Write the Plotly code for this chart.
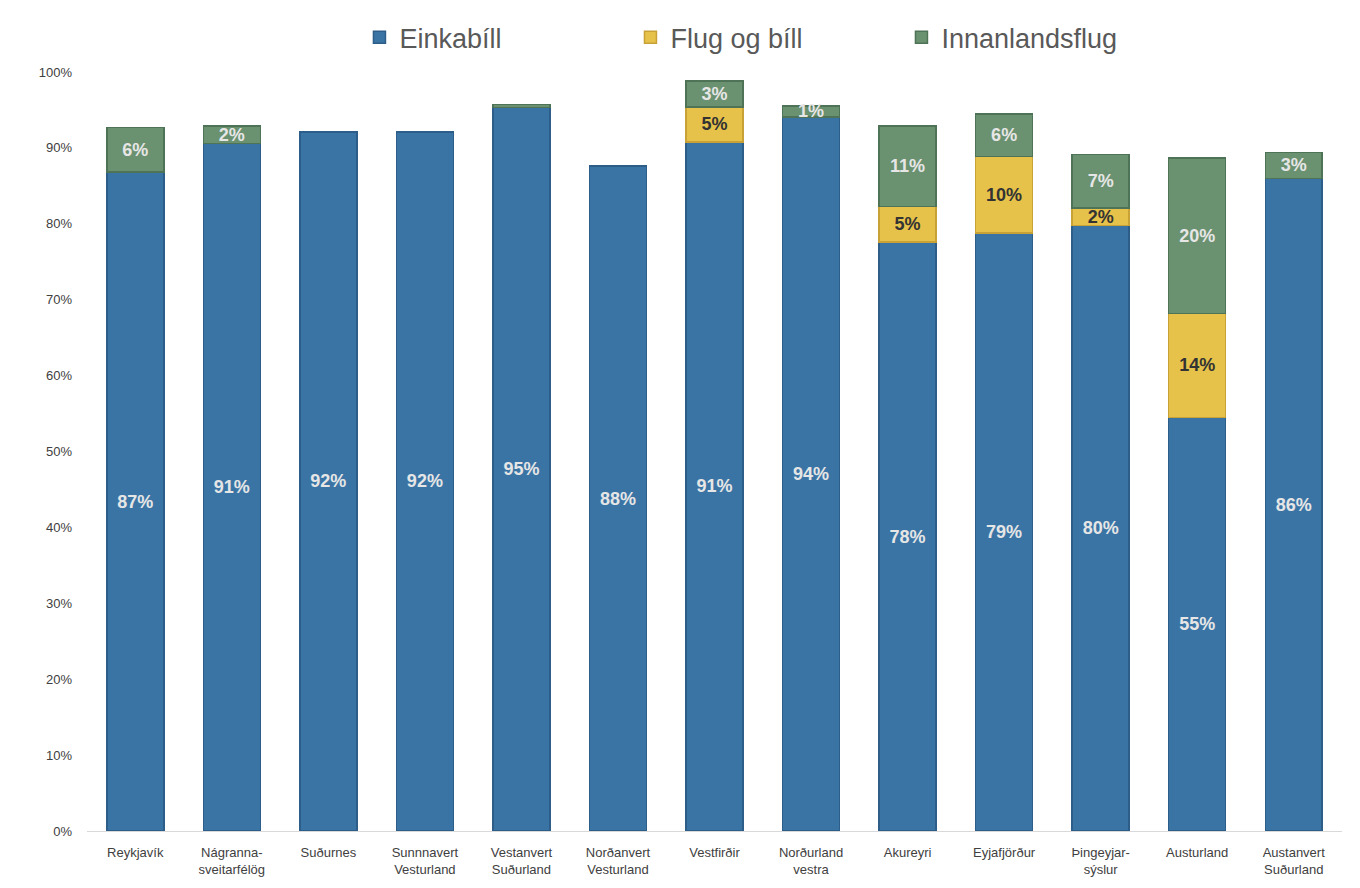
import plotly.graph_objects as go

# svæði og hlutföll ferðamáta (lesið af mynd)
regions = [
    "Reykjavík", "Nágranna-<br>sveitarfélög", "Suðurnes", "Sunnnavert<br>Vesturland",
    "Vestanvert<br>Suðurland", "Norðanvert<br>Vesturland", "Vestfirðir", "Norðurland<br>vestra",
    "Akureyri", "Eyjafjörður", "Þingeyjar-<br>sýslur", "Austurland", "Austanvert<br>Suðurland",
]
einkabill = [0.868, 0.906, 0.921, 0.921, 0.953, 0.876, 0.908, 0.941,
             0.776, 0.788, 0.798, 0.545, 0.860]
flug_og_bill = [None, None, None, None, None, None, 0.046, None,
                0.047, 0.101, 0.023, 0.137, None]
innanlandsflug = [0.059, 0.023, None, None, 0.004, None, 0.034, 0.014,
                  0.106, 0.056, 0.070, 0.205, 0.034]

FONT = "Liberation Sans"


def labels(vals):
    # sleppum merkimiðum á mjög litlum bútum
    return [f"{round(v * 100):.0f}%" if v and v >= 0.01 else "" for v in vals]


series = [
    ("Einkabíll", einkabill, "#3A74A5", "#2D5E89", "#E6E6E6"),
    ("Flug og bíll", flug_og_bill, "#E6C24A", "#C9A237", "#333333"),
    ("Innanlandsflug", innanlandsflug, "#6A9170", "#4E7357", "#E6E6E6"),
]

fig = go.Figure()
for name, vals, color, line, tcolor in series:
    fig.add_trace(go.Bar(
        x=regions, y=vals, name=name,
        marker=dict(color=color, line=dict(color=line, width=1.5)),
        text=labels(vals), textposition="inside", insidetextanchor="middle",
        textangle=0,
        textfont=dict(family=FONT, size=18, color=tcolor, weight="bold"),
        hoverinfo="x+y+name",
    ))

fig.update_layout(
    barmode="stack",
    bargap=0.41,
    width=1344, height=872,
    margin=dict(l=79, r=10, t=64, b=49),
    paper_bgcolor="white", plot_bgcolor="white",
    font=dict(family=FONT, color="#595959"),
    uniformtext=dict(minsize=18, mode="show"),
    legend=dict(
        orientation="h", x=0.541, xanchor="center",
        yref="container", y=0.966, yanchor="middle",
        font=dict(family=FONT, size=27, color="#595959"),
        entrywidth=226, entrywidthmode="pixels",
        traceorder="normal",
    ),
    showlegend=True,
)
fig.update_xaxes(
    showline=True, linecolor="#D9D9D9", linewidth=1,
    showgrid=False, ticks="", automargin=False,
    tickfont=dict(family=FONT, size=13, color="#404040"),
    ticklabelstandoff=9,
)
fig.update_yaxes(
    range=[0, 1.0], tickformat=".0%", dtick=0.1,
    showgrid=False, zeroline=False, showline=False, automargin=False,
    tickfont=dict(family=FONT, size=13, color="#404040"),
    ticklabelstandoff=14,
)

fig.write_html("out.html")
